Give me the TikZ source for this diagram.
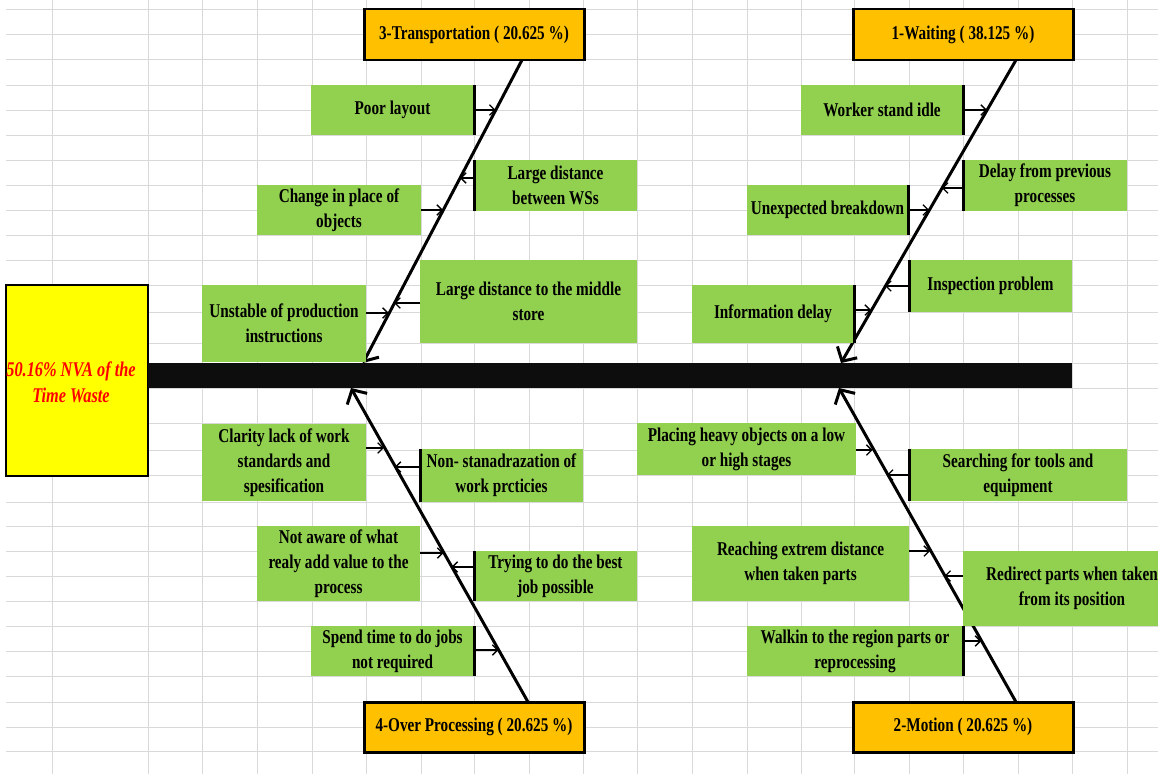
\documentclass[tikz,border=0pt]{standalone}
\usepackage{fontspec}
\setmainfont{Liberation Serif}[FakeStretch=0.78]
\usetikzlibrary{arrows.meta,calc}
\definecolor{gridgray}{RGB}{217,217,217}
\definecolor{causegreen}{RGB}{146,208,80}
\definecolor{headorange}{RGB}{255,192,0}
\definecolor{effectyellow}{RGB}{255,255,0}
\definecolor{spineblack}{RGB}{13,13,13}
\newcommand{\cellfont}{\fontsize{11.1}{14.2}\selectfont\bfseries}

\tikzset{
  cause/.style={fill=causegreen, inner sep=0pt, outer sep=0pt, align=center, font=\cellfont},
  head/.style={fill=headorange, draw=black, line width=1.7pt, inner sep=0pt, outer sep=0pt, align=center, font=\cellfont},
  bone/.style={line width=1.7pt, -{Straight Barb[length=6pt,width=13pt]}},
  twig/.style={line width=0.75pt, -{Straight Barb[length=3pt,width=6pt]}},
  edgebar/.style={line width=1.7pt},
  sz/.style 2 args={minimum width=#1*0.02cm, minimum height=#2*0.02cm},
}

\begin{document}
\begin{tikzpicture}[x=0.02cm, y=-0.02cm]
\path[use as bounding box, fill=white] (0,0) rectangle (1158,774);

% Sheet grid
\foreach \y in {9,34,59,85,110,135,160,185,210,235,260,285,312,343,363,388,423,450,475,502,526,551,576,601,626,651,676,702,727,751}
  \draw[gridgray, line width=0.55pt] (6,\y) -- (1158,\y);
\foreach \x in {52,148,202,257,312,366,421,474,529,583,637,692,747,801,854,909,963,1018,1072,1127}
  \draw[gridgray, line width=0.55pt] (\x,0) -- (\x,774);

% Effect and spine
\node[draw, line width=1.1pt, fill=effectyellow, sz={142}{191}, inner sep=0pt, outer sep=0pt] (effect) at (77,380.5) {};
\node[align=center, font=\fontsize{11.9}{14.8}\selectfont\bfseries\itshape, text=red] (effecttext) at (71,382) {50.16\% NVA of the\\Time Waste};
\node[fill=spineblack, sz={924}{25}, inner sep=0pt, outer sep=0pt] (spine) at (610,375.5) {};

% Heads
\node[head, sz={220}{51}] (trans) at (474,34.5) {3-Transportation ( 20.625 \%)};
\node[head, sz={220}{51}] (waiting) at (963,34.5) {1-Waiting ( 38.125 \%)};
\node[head, sz={220}{50}] (over) at (474,727) {4-Over Processing ( 20.625 \%)};
\node[head, sz={220}{50}] (motion) at (963,727) {2-Motion ( 20.625 \%)};

% Bones
\draw[bone] ($(trans.south east)+(-62,0)$) -- (363,0 |- spine.north);
\draw[bone] ($(waiting.south east)+(-57,0)$) -- (841,0 |- spine.north);
\draw[bone] ($(over.north east)+(-56,0)$) -- (351,0 |- spine.south);
\draw[bone] ($(motion.north east)+(-57,0)$) -- (839,0 |- spine.south);

% Transportation causes
\node[cause, sz={163}{50}] (poor) at (392.5,110) {Poor layout};
\node[cause, sz={163}{51}] (wss) at (555.5,185.5) {Large distance\\between WSs};
\node[cause, sz={164}{50}] (change) at (339,210) {Change in place of\\objects};
\node[cause, sz={217}{83}] (store) at (528.5,301.5) {Large distance to the middle\\store};
\node[cause, sz={164}{77}] (unstable) at (284,323.5) {Unstable of production\\instructions};
\coordinate (poorT) at (495.7,110);
\coordinate (wssT) at (459.9,178);
\coordinate (changeT) at (443,210);
\coordinate (storeT) at (394.1,303);
\coordinate (unstableT) at (388.8,313);
\draw[edgebar] (poor.north east) -- (poor.south east);
\draw[edgebar] (wss.north west) -- (wss.south west);
\draw[twig] (poor.east |- poorT) -- (poorT);
\draw[twig] (wss.west |- wssT) -- (wssT);
\draw[twig] (change.east |- changeT) -- (changeT);
\draw[twig] (store.west |- storeT) -- (storeT);
\draw[twig] (unstable.east |- unstableT) -- (unstableT);

% Waiting causes
\node[cause, sz={162}{50}] (idle) at (882,110) {Worker stand idle};
\node[cause, sz={164}{51}] (delay) at (1045,185.5) {Delay from previous\\processes};
\node[cause, sz={161}{50}] (breakdown) at (827.5,210) {Unexpected breakdown};
\node[cause, sz={163}{52}] (inspect) at (990.5,286) {Inspection problem};
\node[cause, sz={162}{58}] (info) at (773,314) {Information delay};
\coordinate (idleT) at (987,110);
\coordinate (delayT) at (941.8,188);
\coordinate (breakdownT) at (929.1,210);
\coordinate (inspectT) at (885,286);
\coordinate (infoT) at (871.1,310);
\draw[edgebar] (idle.north east) -- (idle.south east);
\draw[edgebar] (delay.north west) -- (delay.south west);
\draw[edgebar] (breakdown.north east) -- (breakdown.south east);
\draw[edgebar] (inspect.north west) -- (inspect.south west);
\draw[edgebar] (info.north east) -- (info.south east);
\draw[twig] (idle.east |- idleT) -- (idleT);
\draw[twig] (delay.west |- delayT) -- (delayT);
\draw[twig] (breakdown.east |- breakdownT) -- (breakdownT);
\draw[twig] (inspect.west |- inspectT) -- (inspectT);
\draw[twig] (info.east |- infoT) -- (infoT);

% Over Processing causes
\node[cause, sz={164}{77}] (clarity) at (284,462.5) {Clarity lack of work\\standards and\\spesification};
\node[cause, sz={163}{53}] (nonstd) at (501.5,475.5) {Non- stanadrazation of\\work prcticies};
\node[cause, sz={163}{75}] (aware) at (338.5,563.5) {Not aware of what\\realy add value to the\\process};
\node[cause, sz={163}{50}] (best) at (555.5,576) {Trying to do the best\\job possible};
\node[cause, sz={163}{50}] (spend) at (392.5,651) {Spend time to do jobs\\not required};
\coordinate (clarityT) at (383.9,448);
\coordinate (nonstdT) at (394.7,467);
\coordinate (awareT) at (443.5,553);
\coordinate (bestT) at (451.4,567);
\coordinate (spendT) at (498.5,650);
\draw[edgebar] (nonstd.north west) -- (nonstd.south west);
\draw[edgebar] (best.north west) -- (best.south west);
\draw[edgebar] (spend.north east) -- (spend.south east);
\draw[twig] (clarity.east |- clarityT) -- (clarityT);
\draw[twig] (nonstd.west |- nonstdT) -- (nonstdT);
\draw[twig] (aware.east |- awareT) -- (awareT);
\draw[twig] (best.west |- bestT) -- (bestT);
\draw[twig] (spend.east |- spendT) -- (spendT);

% Motion causes
\node[cause, sz={219}{52}] (heavy) at (746.5,449) {Placing heavy objects on a low\\or high stages};
\node[cause, sz={218}{52}] (search) at (1018,475) {Searching for tools and\\equipment};
\node[cause, sz={217}{75}] (reach) at (800.5,563.5) {Reaching extrem distance\\when taken parts};
\node[cause, sz={218}{75}] (redirect) at (1072,588.5) {Redirect parts when taken\\from its position};
\node[cause, sz={216}{50}] (walk) at (855,651) {Walkin to the region parts or\\reprocessing};
\coordinate (heavyT) at (872.6,450);
\coordinate (searchT) at (886.8,475);
\coordinate (reachT) at (930.1,551);
\coordinate (redirectT) at (944.3,576);
\coordinate (walkT) at (981.3,641);
\draw[edgebar] (search.north west) -- (search.south west);
\draw[edgebar] (walk.north east) -- (walk.south east);
\draw[twig] (heavy.east |- heavyT) -- (heavyT);
\draw[twig] (search.west |- searchT) -- (searchT);
\draw[twig] (reach.east |- reachT) -- (reachT);
\draw[twig] (redirect.west |- redirectT) -- (redirectT);
\draw[twig] (walk.east |- walkT) -- (walkT);
\end{tikzpicture}
\end{document}
